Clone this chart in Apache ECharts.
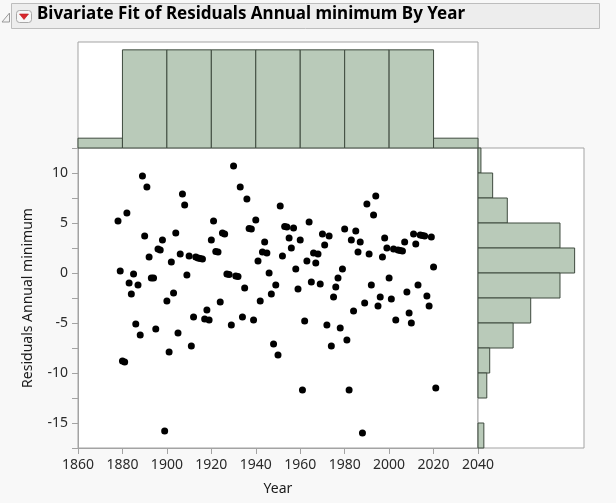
<!DOCTYPE html>
<html>
<head>
<meta charset="utf-8">
<script src="https://cdn.jsdelivr.net/npm/echarts@6/dist/echarts.min.js"></script>
<style>
html,body{margin:0;padding:0;background:#f8f8f8;}
#c{width:616px;height:503px;}
</style>
</head>
<body>
<div id="c"></div>
<script>
// ---- data ----
const years = [
1878,1879,1880,1881,1882,1883,1884,1885,1886,1887,
1888,1889,1890,1891,1892,1893,1894,1895,1896,1897,
1898,1899,1900,1901,1902,1903,1904,1905,1906,1907,
1908,1909,1910,1911,1912,1913,1914,1915,1916,1917,
1918,1919,1920,1921,1922,1923,1924,1925,1926,1927,
1928,1929,1930,1931,1932,1933,1934,1935,1936,1937,
1938,1939,1940,1941,1942,1943,1944,1945,1946,1947,
1948,1949,1950,1951,1952,1953,1954,1955,1956,1957,
1958,1959,1960,1961,1962,1963,1964,1965,1966,1967,
1968,1969,1970,1971,1972,1973,1974,1975,1976,1977,
1978,1979,1980,1981,1982,1983,1984,1985,1986,1987,
1988,1989,1990,1991,1992,1993,1994,1995,1996,1997,
1998,1999,2000,2001,2002,2003,2004,2005,2006,2007,
2008,2009,2010,2011,2012,2013,2014,2015,2016,2017,
2018,2019,2020,2021];
const residuals = [
5.2, 0.2, -8.8, -8.9, 6.0, -1.0, -2.1, -0.1, -5.1, -1.2,
-6.2, 9.7, 3.7, 8.6, 1.6, -0.5, -0.5, -5.6, 2.4, 2.3,
3.3, -15.8, -2.8, -7.9, 1.1, -2.0, 4.0, -6.0, 1.9, 7.9,
6.8, -0.2, 1.7, -7.3, -4.4, 1.6, 1.5, 1.45, 1.4, -4.6,
-3.7, -4.7, 3.3, 5.2, 2.15, 2.1, -2.9, 4.0, 3.9, -0.1,
-0.15, -5.2, 10.7, -0.3, -0.35, 8.6, -4.4, -1.5, 7.4, 4.45,
4.4, -4.7, 5.3, 1.2, -2.8, 2.1, 3.1, 2.0, 0.0, -2.1,
-7.1, -1.2, -8.2, 6.7, 1.7, 4.65, 4.6, 3.5, 2.5, 4.5,
0.4, -1.6, 3.3, -11.7, -4.8, 1.2, 5.1, -0.9, 2.0, 1.0,
1.9, -1.1, 3.9, 2.8, -5.2, 3.7, -7.3, -2.4, -1.4, -0.5,
-5.5, 0.4, 4.4, -6.7, -11.7, 3.3, -3.8, 4.2, 2.1, 3.1,
-16.0, -3.0, 6.9, 1.9, -1.2, 5.8, 7.7, -3.3, -2.4, 1.6,
3.5, 2.5, -0.5, -2.6, 2.4, -4.7, 2.3, 2.25, 2.2, 3.1,
-1.9, -4.0, -5.0, 3.9, 2.9, -1.2, 3.8, 3.75, 3.7, -2.3,
-3.3, 3.6, 0.6, -11.5];

// marginal histogram of Year (bin starts, bin width, counts)
const yearBinStarts = [1860,1880,1900,1920,1940,1960,1980,2000,2020];
const yearBinWidth = 20;
const yearBinCounts = [2,20,20,20,20,20,20,20,2];

// marginal histogram of residuals (bin lower edges, bin width, counts)
const resBinLows = [10,7.5,5,2.5,0,-2.5,-5,-7.5,-10,-12.5,-15,-17.5];
const resBinWidth = 2.5;
const resBinCounts = [1,5,10,28,33,28,18,12,4,3,0,2];

const title = 'Bivariate Fit of Residuals Annual minimum By Year';
const xTitle = 'Year';
const yTitle = 'Residuals Annual minimum';

// ---- chart ----
const FONT = 'Noto Sans';
const histFill = '#b9cab9';
const histStroke = '#3e4a3e';
const frame = '#a3a3a3';

const chart = echarts.init(document.getElementById('c'), null, {renderer:'canvas'});

function histTopItem(params, api){
  const p0 = api.coord([api.value(0), api.value(2)]);
  const p1 = api.coord([api.value(1), 0]);
  return {type:'rect', shape:{x:p0[0], y:p0[1], width:p1[0]-p0[0], height:p1[1]-p0[1]},
    style:{fill:histFill, stroke:histStroke, lineWidth:1}};
}
function histRightItem(params, api){
  if (api.value(2) <= 0) return null;
  const pTop = api.coord([api.value(2), api.value(1)]);
  const pBot = api.coord([0, api.value(0)]);
  return {type:'rect', shape:{x:pBot[0], y:pTop[1], width:pTop[0]-pBot[0], height:pBot[1]-pTop[1]},
    style:{fill:histFill, stroke:histStroke, lineWidth:1}};
}

const option = {
  backgroundColor:'#f8f8f8',
  animation:false,
  textStyle:{fontFamily:FONT},
  grid:[
    {left:78, top:42, width:400, height:106, show:true, backgroundColor:'#fff', borderColor:frame, borderWidth:1},
    {left:78, top:148, width:400, height:300, show:true, backgroundColor:'#fff', borderColor:frame, borderWidth:1},
    {left:478, top:148, width:106, height:300, show:true, backgroundColor:'#fff', borderColor:frame, borderWidth:1}
  ],
  xAxis:[
    {gridIndex:0, type:'value', min:1860, max:2040, show:false},
    {gridIndex:1, type:'value', min:1860, max:2040, interval:20,
      axisLine:{show:true, onZero:false, lineStyle:{color:frame}},
      axisTick:{show:true, length:6, lineStyle:{color:frame}},
      axisLabel:{color:'#2a2a2a', fontSize:14, fontFamily:FONT, margin:10,
        formatter:function(v){ return String(v); }},
      splitLine:{show:false},
      name:xTitle, nameLocation:'middle', nameGap:34,
      nameTextStyle:{color:'#1a1a1a', fontSize:14, fontFamily:FONT}},
    {gridIndex:2, type:'value', min:0, max:36.2, show:false}
  ],
  yAxis:[
    {gridIndex:0, type:'value', min:0, max:21.6, show:false},
    {gridIndex:1, type:'value', min:-17.5, max:12.5, interval:2.5,
      axisLine:{show:true, onZero:false, lineStyle:{color:frame}},
      axisTick:{show:true, length:6, lineStyle:{color:frame}},
      axisLabel:{color:'#2a2a2a', fontSize:14, fontFamily:FONT, margin:10,
        formatter:function(v){ return (Math.abs(v % 5) < 1e-9) ? String(v) : ''; }},
      splitLine:{show:false},
      name:yTitle, nameLocation:'middle', nameGap:43,
      nameTextStyle:{color:'#1a1a1a', fontSize:14, fontFamily:FONT}},
    {gridIndex:2, type:'value', min:-17.5, max:12.5, show:false}
  ],
  series:[
    {type:'custom', xAxisIndex:0, yAxisIndex:0, renderItem:histTopItem,
      encode:{x:[0,1], y:2},
      data: yearBinStarts.map((s,i)=>[s, s+yearBinWidth, yearBinCounts[i]])},
    {type:'scatter', xAxisIndex:1, yAxisIndex:1, symbolSize:7,
      itemStyle:{color:'#000', opacity:1},
      data: years.map((y,i)=>[y, residuals[i]])},
    {type:'custom', xAxisIndex:2, yAxisIndex:2, renderItem:histRightItem,
      encode:{x:2, y:[0,1]},
      data: resBinLows.map((lo,i)=>[lo, lo+resBinWidth, resBinCounts[i]])}
  ],
  graphic:[
    {type:'rect', shape:{x:11.5, y:3.5, width:588, height:25, r:0},
      style:{fill:'#ededed', stroke:'#bdbdbd', lineWidth:1}},
    {type:'polygon', shape:{points:[[2,22],[9.5,22],[9.5,13]]},
      style:{fill:'#f4f4f4', stroke:'#9a9a9a', lineWidth:1}},
    {type:'rect', shape:{x:16.5, y:10.5, width:15, height:12, r:3},
      style:{fill:'#f7f7f7', stroke:'#a8a8a8', lineWidth:1}},
    {type:'polygon', shape:{points:[[19.5,14],[28.5,14],[24,19.5]]},
      style:{fill:'#d9262c', stroke:'#b81d22', lineWidth:0.6}},
    {type:'text', left:37, top:6,
      style:{text:title, fill:'#000', font:'bold 17px "Noto Sans"'}}
  ]
};
chart.setOption(option);
</script>
</body>
</html>
